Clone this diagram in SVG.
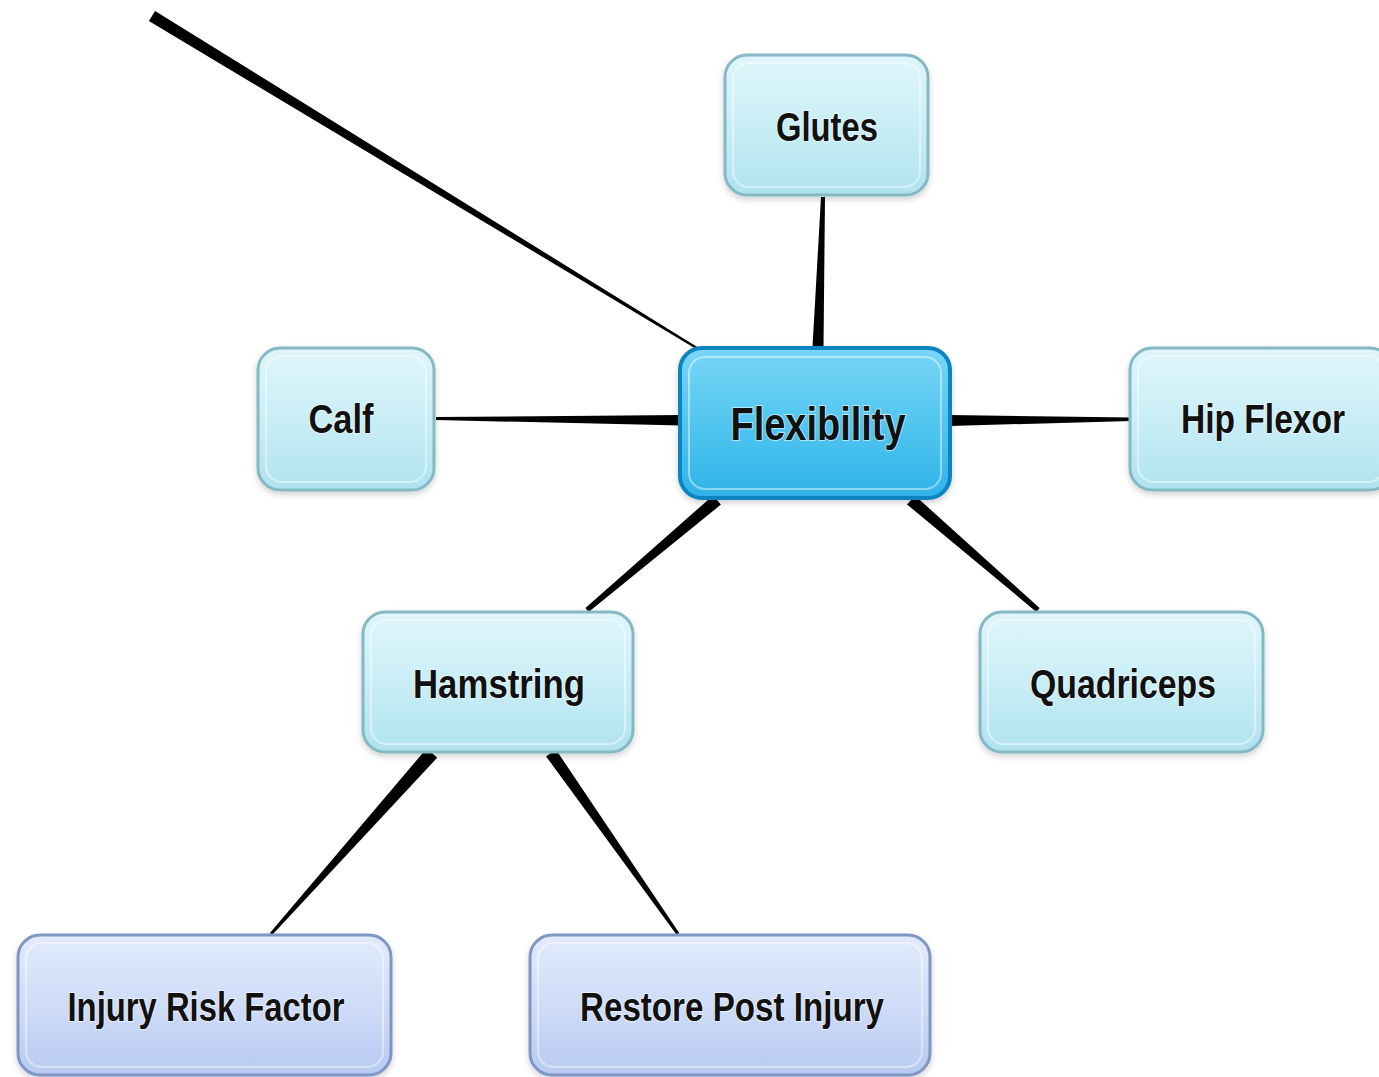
<svg xmlns="http://www.w3.org/2000/svg" width="1379" height="1077" viewBox="0 0 1379 1077">
<defs>
<linearGradient id="gCyan" x1="0" y1="0" x2="0" y2="1">
<stop offset="0" stop-color="#dff6fb"/>
<stop offset="0.5" stop-color="#c9eef6"/>
<stop offset="1" stop-color="#b0e2ee"/>
</linearGradient>
<linearGradient id="gBlue" x1="0" y1="0" x2="0" y2="1">
<stop offset="0" stop-color="#78d6f6"/>
<stop offset="0.5" stop-color="#52c6f0"/>
<stop offset="1" stop-color="#2fb2e8"/>
</linearGradient>
<linearGradient id="gLav" x1="0" y1="0" x2="0" y2="1">
<stop offset="0" stop-color="#e2ebfc"/>
<stop offset="0.5" stop-color="#cfdcf8"/>
<stop offset="1" stop-color="#b7caf1"/>
</linearGradient>
<filter id="sh" x="-10%" y="-10%" width="120%" height="130%">
<feDropShadow dx="0" dy="3" stdDeviation="3" flood-color="#000" flood-opacity="0.18"/>
</filter>
</defs>
<style>
.cyan{fill:url(#gCyan);stroke:#84b9c4;stroke-width:3;filter:url(#sh)}
.blue{fill:url(#gBlue);stroke:#0b84c2;stroke-width:4;filter:url(#sh)}
.lav{fill:url(#gLav);stroke:#7f96c4;stroke-width:3;filter:url(#sh)}
.hl{fill:none;stroke:#ffffff;stroke-opacity:0.45;stroke-width:2}
.lbl{font-family:"Liberation Sans",Arial,sans-serif;font-weight:bold;fill:#111;text-anchor:middle;stroke:#ffffff;stroke-opacity:0.6;stroke-width:2;paint-order:stroke}
.con{fill:#000}
</style>
<rect width="1379" height="1077" fill="#ffffff"/>
<g id="connectors">
<polygon class="con" points="148.9,21.1 699.5,350.9 700.5,349.1 155.1,10.9"/>
<polygon class="con" points="821,197 825,197 823.5,347 812.5,347"/>
<polygon class="con" points="436,417 682,415 682,425.5 436,420"/>
<polygon class="con" points="950,415 1131,417.5 1131,421 950,426"/>
<polygon class="con" points="713.1,495.4 585.4,608.1 588.6,611.9 720.9,504.6"/>
<polygon class="con" points="907.1,504.5 1036.4,611.9 1039.6,608.1 914.9,495.5"/>
<polygon class="con" points="426.8,748.3 269.9,933 272.1,935 437.2,757.7"/>
<polygon class="con" points="546.1,756.4 676.8,934.9 679.2,933.1 555.9,749.6"/>
</g>
<g id="glutes">
<rect class="cyan" x="725" y="55" width="203" height="140" rx="22"/>
<rect class="hl" x="733" y="63" width="187" height="124" rx="16"/>
<text class="lbl" x="827" y="141" font-size="40" textLength="102" lengthAdjust="spacingAndGlyphs">Glutes</text>
</g>
<g id="flexibility">
<rect class="blue" x="680" y="348" width="270" height="150" rx="22"/>
<rect class="hl" x="689" y="357" width="252" height="132" rx="16"/>
<text class="lbl" x="818" y="440" font-size="47" textLength="175" lengthAdjust="spacingAndGlyphs">Flexibility</text>
</g>
<g id="calf">
<rect class="cyan" x="258" y="348" width="176" height="142" rx="22"/>
<rect class="hl" x="266" y="356" width="160" height="126" rx="16"/>
<text class="lbl" x="341" y="433" font-size="40" textLength="65" lengthAdjust="spacingAndGlyphs">Calf</text>
</g>
<g id="hip-flexor">
<rect class="cyan" x="1130" y="348" width="262" height="142" rx="22"/>
<rect class="hl" x="1138" y="356" width="246" height="126" rx="16"/>
<text class="lbl" x="1263" y="433" font-size="40" textLength="164" lengthAdjust="spacingAndGlyphs">Hip Flexor</text>
</g>
<g id="hamstring">
<rect class="cyan" x="363" y="612" width="270" height="140" rx="22"/>
<rect class="hl" x="371" y="620" width="254" height="124" rx="16"/>
<text class="lbl" x="499" y="698" font-size="40" textLength="172" lengthAdjust="spacingAndGlyphs">Hamstring</text>
</g>
<g id="quadriceps">
<rect class="cyan" x="980" y="612" width="283" height="140" rx="22"/>
<rect class="hl" x="988" y="620" width="267" height="124" rx="16"/>
<text class="lbl" x="1123" y="698" font-size="40" textLength="186" lengthAdjust="spacingAndGlyphs">Quadriceps</text>
</g>
<g id="injury-risk-factor">
<rect class="lav" x="18" y="935" width="373" height="140" rx="22"/>
<rect class="hl" x="26" y="943" width="357" height="124" rx="16"/>
<text class="lbl" x="206" y="1021" font-size="40" textLength="277" lengthAdjust="spacingAndGlyphs">Injury Risk Factor</text>
</g>
<g id="restore-post-injury">
<rect class="lav" x="530" y="935" width="400" height="140" rx="22"/>
<rect class="hl" x="538" y="943" width="384" height="124" rx="16"/>
<text class="lbl" x="732" y="1021" font-size="40" textLength="304" lengthAdjust="spacingAndGlyphs">Restore Post Injury</text>
</g>
</svg>
